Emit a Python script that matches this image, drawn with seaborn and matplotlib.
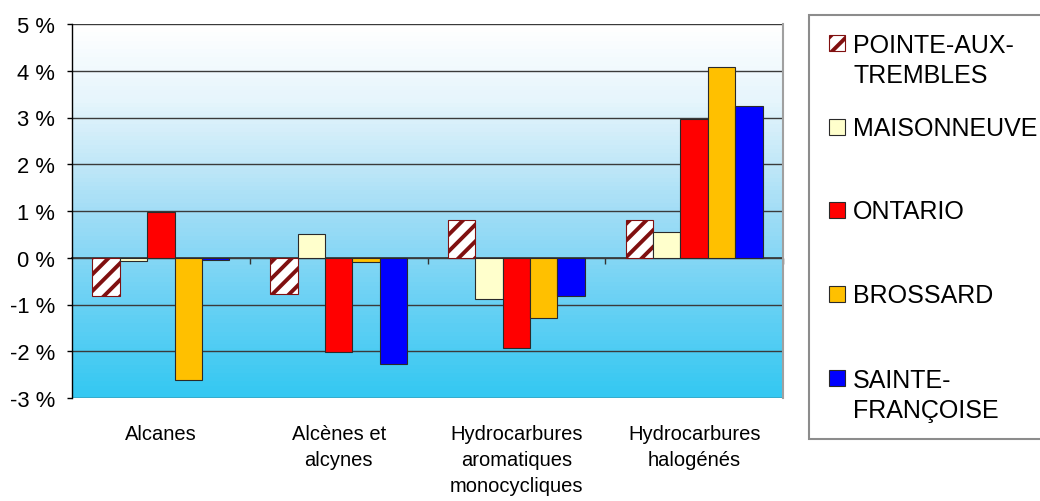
import numpy as np
import pandas as pd
import matplotlib
matplotlib.use("Agg")
import matplotlib.pyplot as plt
from matplotlib import font_manager
from matplotlib.colors import LinearSegmentedColormap
from matplotlib.patches import Rectangle
import seaborn as sns

# Variation (%) by pollutant family and monitoring station
categories = ["Alcanes", "Alcènes et\nalcynes", "Hydrocarbures\naromatiques\nmonocycliques",
              "Hydrocarbures\nhalogénés"]
stations = ["POINTE-AUX-TREMBLES", "MAISONNEUVE", "ONTARIO", "BROSSARD", "SAINTE-FRANÇOISE"]
legend_lines = [["POINTE-AUX-", "TREMBLES"], ["MAISONNEUVE"], ["ONTARIO"], ["BROSSARD"],
                ["SAINTE-", "FRANÇOISE"]]
pointe_aux_trembles = [-0.81, -0.77, 0.80, 0.80]
maisonneuve = [-0.08, 0.51, -0.89, 0.56]
ontario = [0.97, -2.01, -1.92, 2.97]
brossard = [-2.61, -0.09, -1.28, 4.08]
sainte_francoise = [-0.05, -2.27, -0.82, 3.24]
y_ticks = [-3, -2, -1, 0, 1, 2, 3, 4, 5]

colors = ["#ffffff", "#ffffcc", "#ff0000", "#ffc000", "#0000ff"]
hatch_red = "#801010"

df = pd.DataFrame({
    "categorie": categories * 5,
    "station": np.repeat(stations, len(categories)),
    "valeur": pointe_aux_trembles + maisonneuve + ontario + brossard + sainte_francoise,
})

sns.set_theme(style="white")
plt.rcParams["font.family"] = ["Liberation Sans", "DejaVu Sans"]
available = {f.name for f in font_manager.fontManager.ttflist}
narrow = "Liberation Sans Narrow" if "Liberation Sans Narrow" in available else "Liberation Sans"
plt.rcParams["hatch.linewidth"] = 2.8

W, H = 1040, 502
fig = plt.figure(figsize=(W / 100, H / 100), dpi=100)
ax = fig.add_axes([72 / W, 1 - 399 / H, (783 - 72) / W, (399 - 25) / H])

# Sky-like vertical gradient behind the bars
grad_cmap = LinearSegmentedColormap.from_list(
    "sky", [(0.0, "#34c8f2"), (0.25, "#69d1f4"), (0.5, "#a2ddf6"), (0.62, "#bfe7f8"),
            (0.8, "#e6f5fc"), (1.0, "#ffffff")])
steps = np.linspace(0, 1, 90)[::-1].reshape(-1, 1)
ax.imshow(steps, cmap=grad_cmap, extent=[-0.5, 3.5, -3, 5], aspect="auto",
          interpolation="nearest", zorder=0)

sns.barplot(data=df, x="categorie", y="valeur", hue="station", hue_order=stations,
            palette=colors, width=0.77, gap=0, legend=False, ax=ax,
            edgecolor="#2a2a2a", linewidth=0.8, saturation=1, err_kws={"linewidth": 0})

# Striped bars: the hatch takes the edge colour
for bar in ax.containers[0]:
    bar.set_edgecolor(hatch_red)
    bar.set_hatch("//")

ax.set_xlim(-0.5, 3.5)
ax.set_ylim(-3, 5)
ax.set_yticks(y_ticks)
ax.set_yticklabels([f"{v} %" for v in y_ticks], fontsize=15.8)
ax.set_axisbelow(True)
ax.yaxis.grid(True, color="#3a3a3a", linewidth=1.0)
ax.xaxis.grid(False)
ax.set_xlabel("")
ax.set_ylabel("")

ax.tick_params(axis="y", which="major", left=True, length=3.6, width=1, color="black",
               pad=8.6, labelcolor="black")
ax.tick_params(axis="x", length=0, pad=19)
for lbl in ax.get_xticklabels():
    lbl.set_fontfamily([narrow, "DejaVu Sans"])
    lbl.set_fontsize(14.5)
    lbl.set_linespacing(1.45)
    lbl.set_color("black")

for s in ["top", "bottom"]:
    ax.spines[s].set_visible(False)
ax.spines["left"].set_color("black")
ax.spines["left"].set_linewidth(1.0)
ax.spines["right"].set_color("#a0a0a0")
ax.spines["right"].set_linewidth(1.5)

# Zero axis with tick marks between categories
zero_axis = ax.secondary_xaxis(3 / 8)
zero_axis.set_xticks([0.5, 1.5, 2.5, 3.5])
zero_axis.set_xticklabels([])
zero_axis.tick_params(length=4, width=1, color="#333333", direction="out")
zero_axis.spines["bottom"].set_color("#333333")
zero_axis.spines["bottom"].set_linewidth(1.2)

# Legend panel
fig.patches.append(Rectangle((809 / W, 1 - 440 / H), 300 / W, (440 - 16) / H,
                             transform=fig.transFigure, facecolor="white",
                             edgecolor="#8c8c8c", linewidth=1.5, zorder=0))
handle_centers = [43.5, 128, 211, 295, 379]
first_baselines = [53, 136, 219, 303, 388]
for k, (color, lines, hc, bl) in enumerate(zip(colors, legend_lines, handle_centers,
                                               first_baselines)):
    rect = Rectangle((829 / W, 1 - (hc + 8) / H), 16 / W, 16 / H,
                     transform=fig.transFigure, facecolor=color, edgecolor="#2a2a2a",
                     linewidth=0.8, zorder=2)
    if k == 0:
        rect.set_edgecolor(hatch_red)
        rect.set_hatch("//")
    fig.patches.append(rect)
    for i, line in enumerate(lines):
        fig.text(853 / W, 1 - (bl + 30 * i) / H, line, fontsize=18, va="baseline",
                 ha="left", color="black")

fig.savefig("out.png", dpi=100)
